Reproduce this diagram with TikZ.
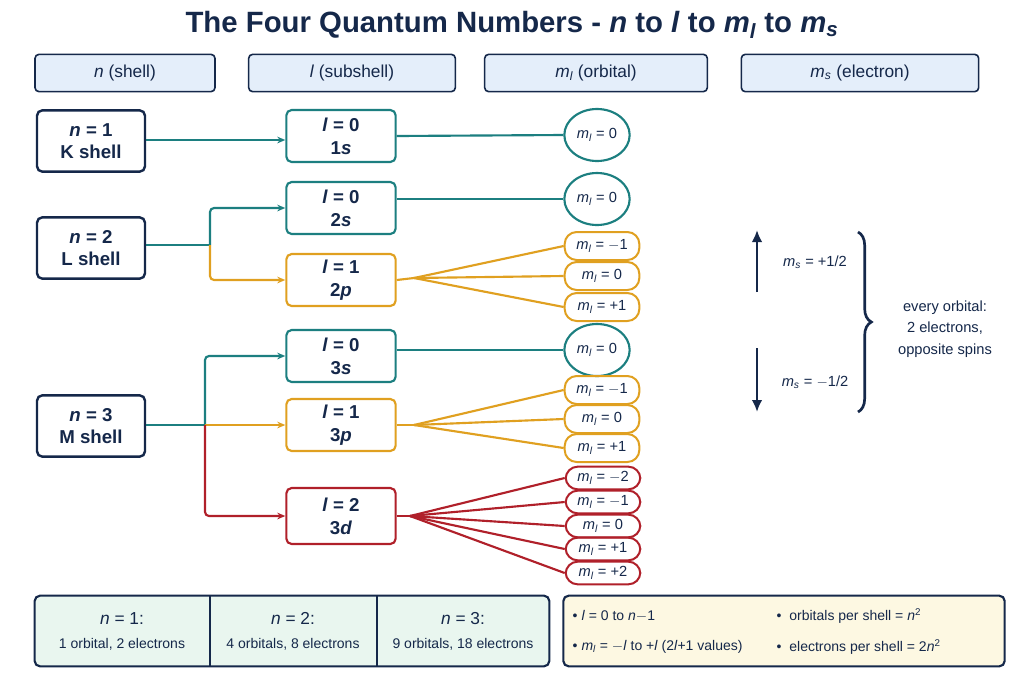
\documentclass[tikz,border=0pt]{standalone}
\usepackage{fontspec}
\setmainfont{Liberation Sans}
\usetikzlibrary{arrows.meta,decorations.pathreplacing,shapes.geometric}
\definecolor{navy}{HTML}{15284A}
\definecolor{teal}{HTML}{1C7F80}
\definecolor{ora}{HTML}{E0A020}
\definecolor{dred}{HTML}{B0202A}
\definecolor{hdr}{HTML}{E4EEFA}
\definecolor{grn}{HTML}{E9F6EF}
\definecolor{yel}{HTML}{FDF8E2}
\begin{document}
\begin{tikzpicture}[x=0.75pt,y=-0.75pt,
 hd/.style={draw=navy,line width=1.2pt,fill=hdr,rounded corners=3pt,minimum height=28pt,text=navy,font=\fontsize{13}{15}\selectfont},
 nb/.style={draw=navy,line width=1.8pt,rounded corners=4pt,minimum width=81pt,minimum height=46pt,align=center,text=navy,font=\fontsize{14}{17}\selectfont\bfseries},
 lb/.style={line width=1.6pt,rounded corners=4pt,minimum width=82pt,minimum height=39pt,align=center,text=navy,font=\fontsize{14}{17}\selectfont\bfseries},
 circ/.style={draw=teal,line width=1.6pt,ellipse,minimum width=49pt,minimum height=39pt,inner sep=0pt,text=navy,font=\fontsize{11}{13}\selectfont},
 pill/.style={line width=1.5pt,rounded corners=9pt,minimum width=56pt,minimum height=#1,inner sep=0pt,text=navy,font=\fontsize{11}{13}\selectfont},
 cn/.style={line width=1.6pt},
 ar/.style={cn,-{Stealth[length=6pt,width=5pt]}}]
\useasboundingbox (0,0) rectangle (1024,683);
\fill[white] (0,0) rectangle (1024,683);
\node[text=navy,font=\fontsize{22}{26}\selectfont\bfseries] (title) at (512,25) {The Four Quantum Numbers - \textit{n} to \textit{l} to \textit{m\textsubscript{l}} to \textit{m\textsubscript{s}}};
\node[hd,minimum width=135pt] (h1) at (125,73) {\textit{n} (shell)};
\node[hd,minimum width=155pt] (h2) at (352,73) {\textit{l} (subshell)};
\node[hd,minimum width=167pt] (h3) at (596,73) {\textit{m\textsubscript{l}} (orbital)};
\node[hd,minimum width=178pt] (h4) at (860,73) {\textit{m\textsubscript{s}} (electron)};
\node[nb] (n1) at (91,141) {\textit{n} = 1\\K shell};
\node[nb] (n2) at (91,248) {\textit{n} = 2\\L shell};
\node[nb] (n3) at (91,426) {\textit{n} = 3\\M shell};
\node[lb,draw=teal] (s1) at (341,136) {\textit{l} = 0\\1\textit{s}};
\node[lb,draw=teal] (s2) at (341,208) {\textit{l} = 0\\2\textit{s}};
\node[lb,draw=ora] (p2) at (341,280) {\textit{l} = 1\\2\textit{p}};
\node[lb,draw=teal] (s3) at (341,356) {\textit{l} = 0\\3\textit{s}};
\node[lb,draw=ora] (p3) at (341,425) {\textit{l} = 1\\3\textit{p}};
\node[lb,draw=dred,minimum height=42pt] (d3) at (341,516) {\textit{l} = 2\\3\textit{d}};
\node[circ] (o1) at (597,135) {\textit{m\textsubscript{l}} = 0};
\node[circ] (o2) at (597,199) {\textit{m\textsubscript{l}} = 0};
\node[circ] (o3) at (597,350) {\textit{m\textsubscript{l}} = 0};
\foreach \y/\t [count=\i] in {246/$-$1,276/0,307/+1}
  \node[pill=21pt,draw=ora] (pa\i) at (602,\y) {\textit{m\textsubscript{l}} = \t};
\foreach \y/\t [count=\i] in {390/$-$1,419/0,448/+1}
  \node[pill=21pt,draw=ora] (pb\i) at (602,\y) {\textit{m\textsubscript{l}} = \t};
\foreach \y/\t [count=\i] in {478/$-$2,502/$-$1,526/0,549/+1,573/+2}
  \node[pill=17pt,draw=dred] (dd\i) at (603,\y) {\textit{m\textsubscript{l}} = \t};
% connectors
\coordinate (y140) at (0,140);
\coordinate (y199) at (0,199);
\coordinate (y350) at (0,350);
\coordinate (j2) at (210,245);
\coordinate (j3) at (205,425);
\coordinate (f2) at (414,278);
\coordinate (f3) at (414,425);
\coordinate (f4) at (410,516);
\draw[ar,teal] (n1.east|-y140) -- (s1.west|-y140);
\draw[cn,teal] (s1.east) -- (o1.west);
\draw[cn,teal] (s2.east|-y199) -- (o2.west);
\draw[cn,teal] (s3.east|-y350) -- (o3.west);
\draw[cn,teal] (n2.east|-j2) -- (j2);
\draw[ar,teal,rounded corners=3pt] (j2) |- (s2.west);
\draw[ar,ora,rounded corners=3pt] (j2) |- (p2.west);
\draw[cn,teal] (n3.east|-j3) -- (j3);
\draw[ar,teal,rounded corners=3pt] (j3) |- (s3.west);
\draw[ar,ora] (j3) -- (p3.west);
\draw[ar,dred,rounded corners=3pt] (j3) |- (d3.west);
\draw[cn,ora] (p2.east) -- (f2);
\foreach \i in {1,2,3} \draw[cn,ora] (f2) -- (pa\i.west);
\draw[cn,ora] (p3.east) -- (f3);
\foreach \i in {1,2,3} \draw[cn,ora] (f3) -- (pb\i.west);
\draw[cn,dred] (d3.east) -- (f4);
\foreach \i in {1,...,5} \draw[cn,dred] (f4) -- (dd\i.west);
% spins
\coordinate (ua) at (757,292); \coordinate (ub) at (757,230);
\coordinate (da) at (757,348); \coordinate (db) at (757,412);
\draw[navy,line width=2.2pt,-{Latex[length=9pt,width=8pt]}] (ua) -- (ub);
\draw[navy,line width=2.2pt,-{Latex[length=9pt,width=8pt]}] (da) -- (db);
\node[text=navy,font=\fontsize{11}{13}\selectfont] (sp) at (815,262) {\textit{m\textsubscript{s}} = +1/2};
\node[text=navy,font=\fontsize{11}{13}\selectfont] (sm) at (815,382) {\textit{m\textsubscript{s}} = $-$1/2};
\coordinate (b1) at (858,232); \coordinate (b2) at (858,412);
\draw[navy,line width=2pt,decorate,decoration={brace,amplitude=10pt}] (b1) -- (b2);
\node[text=navy,align=center,font=\fontsize{11}{16}\selectfont] (ev) at (945,329) {every orbital:\\2 electrons,\\opposite spins};
% bottom
\node[draw=navy,line width=1.6pt,fill=grn,rounded corners=4pt,minimum width=386pt,minimum height=53pt] (bl) at (292,631) {};
\draw[navy,line width=1.2pt] (210,596) -- (210,666) (377,596) -- (377,666);
\foreach \x/\a/\b [count=\i] in {122/1/1 orbital{,} 2 electrons,293/2/4 orbitals{,} 8 electrons,463/3/9 orbitals{,} 18 electrons}
  \node[text=navy,align=center,font=\fontsize{10.5}{18}\selectfont] (bt\i) at (\x,631) {{\fontsize{13}{15}\selectfont\textit{n} = \a:}\\\b};
\node[draw=navy,line width=1.6pt,fill=yel,rounded corners=4pt,minimum width=331pt,minimum height=53pt] (br) at (784,631) {};
\node[text=navy,anchor=west,font=\fontsize{10.5}{13}\selectfont] (r1) at (568,616) {\textbullet\ \textit{l} = 0 to \textit{n}$-$1};
\node[text=navy,anchor=west,font=\fontsize{10.5}{13}\selectfont] (r2) at (568,647) {\textbullet\ \textit{m\textsubscript{l}} = $-$\textit{l} to +\textit{l} (2\textit{l}+1 values)};
\node[text=navy,anchor=west,font=\fontsize{10.5}{13}\selectfont] (r3) at (772,616) {\textbullet\ \ orbitals per shell = \textit{n}\textsuperscript{2}};
\node[text=navy,anchor=west,font=\fontsize{10.5}{13}\selectfont] (r4) at (772,647) {\textbullet\ \ electrons per shell = 2\textit{n}\textsuperscript{2}};
\end{tikzpicture}
\end{document}
